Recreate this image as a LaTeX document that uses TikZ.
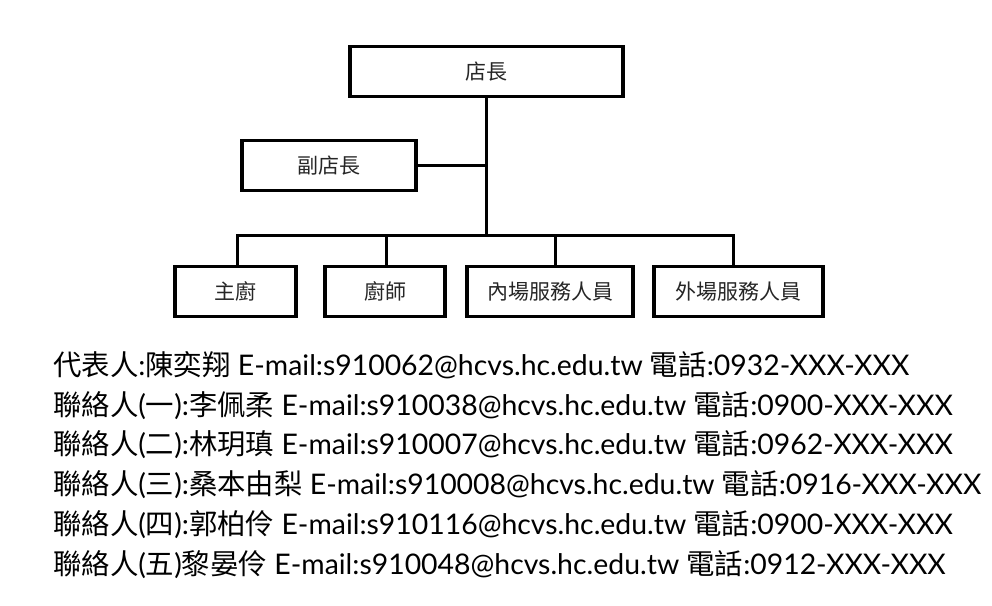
\documentclass[tikz,border=0pt]{standalone}
\usepackage{fontspec}
\setmainfont{Lato}
\newfontfamily\cjkf{Noto Sans CJK TC}
\newcommand\zh[1]{{\cjkf #1}}
\begin{document}
\begin{tikzpicture}[x=1pt,y=-1pt,
  orgbox/.style={draw, line width=3.5pt, rectangle, inner sep=0pt, minimum height=50pt,
    font=\cjkf\fontsize{21}{25}\selectfont, text=black!85},
  conn/.style={line width=3pt},
  info/.style={anchor=base west, inner sep=0pt, font=\fontsize{28.4}{34}\selectfont}]
\useasboundingbox (0,0) rectangle (992,605);
\node[orgbox, minimum width=273pt] (top) at (486.5,71.5) {店長};
\node[orgbox, minimum width=174pt] (vice) at (329,165.5) {副店長};
\node[orgbox, minimum width=121pt] (b1) at (235.5,291.5) {主廚};
\node[orgbox, minimum width=120pt] (b2) at (385,291.5) {廚師};
\node[orgbox, minimum width=166pt] (b3) at (550,291.5) {內場服務人員};
\node[orgbox, minimum width=169pt] (b4) at (738.5,291.5) {外場服務人員};
\coordinate (bus) at (486.5,235);
\draw[conn] (top.south) -- (bus);
\draw[conn] (vice.east) -- (vice.east -| top.south);
\draw[conn] ([xshift=1.5pt]b1.north) |- (bus);
\draw[conn] ([xshift=1pt]b2.north) |- (bus);
\draw[conn] ([xshift=5pt]b3.north) |- (bus);
\draw[conn] ([xshift=-5.5pt]b4.north) |- (bus);
\node[info] (l1) at (53,375.5) {\zh{代表人}:\zh{陳奕翔} E-mail:s910062@hcvs.hc.edu.tw \zh{電話}:0932-XXX-XXX};
\node[info] (l2) at (53,415.2) {\zh{聯絡人}(\zh{一}):\zh{李佩柔} E-mail:s910038@hcvs.hc.edu.tw \zh{電話}:0900-XXX-XXX};
\node[info] (l3) at (53,454.9) {\zh{聯絡人}(\zh{二}):\zh{林玥瑱} E-mail:s910007@hcvs.hc.edu.tw \zh{電話}:0962-XXX-XXX};
\node[info] (l4) at (53,494.6) {\zh{聯絡人}(\zh{三}):\zh{桑本由梨} E-mail:s910008@hcvs.hc.edu.tw \zh{電話}:0916-XXX-XXX};
\node[info] (l5) at (53,534.3) {\zh{聯絡人}(\zh{四}):\zh{郭柏伶} E-mail:s910116@hcvs.hc.edu.tw \zh{電話}:0900-XXX-XXX};
\node[info] (l6) at (53,574) {\zh{聯絡人}(\zh{五})\zh{黎晏伶} E-mail:s910048@hcvs.hc.edu.tw \zh{電話}:0912-XXX-XXX};
\end{tikzpicture}
\end{document}
